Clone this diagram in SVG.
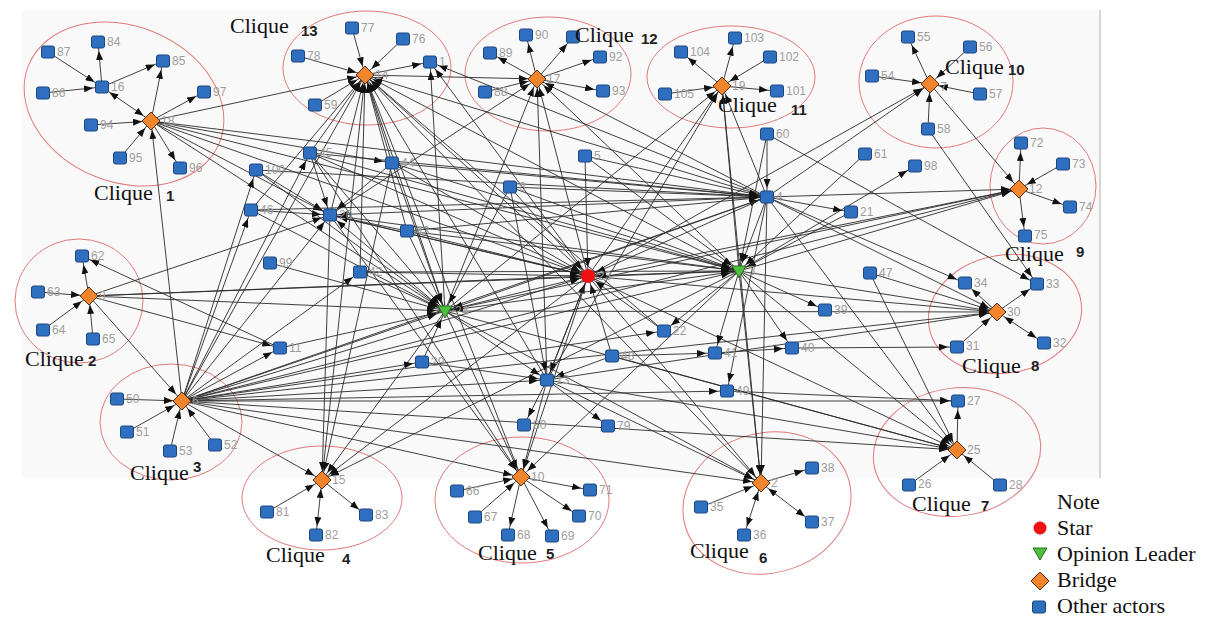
<svg xmlns="http://www.w3.org/2000/svg" xmlns:xlink="http://www.w3.org/1999/xlink" width="1211" height="619" viewBox="0 0 1211 619">
<style>
.e{fill:none;stroke:#2a2a2a;stroke-width:.9;marker-end:url(#ah)}
.b{marker-start:url(#ahs)}
.sq{fill:#2f6fbf;stroke:#1d4680;stroke-width:1}
.dia{fill:#f0852d;stroke:#5a3010;stroke-width:1}
.tri{fill:#4fbf3f;stroke:#2a6a20;stroke-width:1}
.star{fill:#ee1111}
.lb{font-family:"Liberation Sans",Arial,sans-serif;font-size:12px;fill:#9d9d9d}
.cq{fill:none;stroke:#e07a7a;stroke-width:1}
.ct{font-family:"Liberation Serif","Times New Roman",serif;font-size:22px;fill:#111}
.cn{font-family:"Liberation Sans",Arial,sans-serif;font-size:15px;font-weight:bold;fill:#222}
.lg{font-family:"Liberation Serif","Times New Roman",serif;font-size:22px;fill:#111}
</style>
<defs>
<marker id="ah" viewBox="0 0 9 7" refX="18" refY="3.5" markerWidth="9" markerHeight="7" markerUnits="userSpaceOnUse" orient="auto"><path d="M0,0L9,3.5L0,7z" fill="#111"/></marker>
<marker id="ahs" viewBox="0 0 9 7" refX="18" refY="3.5" markerWidth="9" markerHeight="7" markerUnits="userSpaceOnUse" orient="auto-start-reverse"><path d="M0,0L9,3.5L0,7z" fill="#111"/></marker>
<rect id="sq" x="-6.5" y="-6" width="13" height="12" rx="2"/>
<path id="dm" d="M0,-9L9,0L0,9L-9,0Z"/>
<path id="tr" d="M-7,-5L7,-5L0,7Z"/>
</defs>
<rect x="0" y="0" width="1211" height="619" fill="#ffffff"/>
<rect x="22" y="10" width="1078" height="468" fill="#f9f9f9"/>
<line x1="1100" y1="10" x2="1100" y2="478" stroke="#c8c8c8" stroke-width="1.5"/>

<g id="clique-outlines">
<ellipse class="cq" cx="124" cy="104" rx="103" ry="78" transform="rotate(22 124 104)"/>
<ellipse class="cq" cx="367" cy="68" rx="84" ry="57"/>
<ellipse class="cq" cx="548" cy="74" rx="83" ry="57"/>
<ellipse class="cq" cx="731" cy="77" rx="84" ry="51"/>
<ellipse class="cq" cx="936" cy="82" rx="77" ry="66"/>
<ellipse class="cq" cx="1043" cy="186" rx="53" ry="58"/>
<ellipse class="cq" cx="1005" cy="314" rx="77" ry="59" transform="rotate(-10 1005 314)"/>
<ellipse class="cq" cx="957" cy="452" rx="84" ry="64" transform="rotate(-8 957 452)"/>
<ellipse class="cq" cx="767" cy="503" rx="85" ry="70" transform="rotate(-15 767 503)"/>
<ellipse class="cq" cx="522" cy="500" rx="87" ry="63"/>
<ellipse class="cq" cx="322" cy="498" rx="80" ry="52"/>
<ellipse class="cq" cx="171" cy="422" rx="71" ry="58"/>
<ellipse class="cq" cx="79" cy="301" rx="64" ry="62"/>
</g>

<g id="connectors">
<path class="e" d="M48 52L102 87"/>
<path class="e" d="M43 93L102 87"/>
<path class="e" d="M102 87L98 42"/>
<path class="e" d="M102 87L163 61"/>
<path class="e b" d="M151 121L102 87"/>
<path class="e" d="M151 121L163 61"/>
<path class="e" d="M151 121L204 92"/>
<path class="e" d="M91 125L151 121"/>
<path class="e" d="M120 158L151 121"/>
<path class="e" d="M151 121L180 168"/>
<path class="e" d="M352 28L365 75"/>
<path class="e" d="M403 39L365 75"/>
<path class="e" d="M298 56L365 75"/>
<path class="e" d="M315 105L365 75"/>
<path class="e" d="M365 75L430 62"/>
<path class="e" d="M365 75L537 79"/>
<path class="e" d="M537 79L526 35"/>
<path class="e" d="M537 79L490 53"/>
<path class="e" d="M537 79L573 37"/>
<path class="e" d="M537 79L600 57"/>
<path class="e" d="M537 79L603 91"/>
<path class="e" d="M485 92L537 79"/>
<path class="e" d="M722 86L681 52"/>
<path class="e" d="M722 86L735 38"/>
<path class="e" d="M770 57L722 86"/>
<path class="e" d="M665 94L722 86"/>
<path class="e" d="M722 86L777 91"/>
<path class="e" d="M930 84L908 37"/>
<path class="e" d="M970 47L930 84"/>
<path class="e" d="M980 94L930 84"/>
<path class="e" d="M928 129L930 84"/>
<path class="e" d="M872 76L930 84"/>
<path class="e" d="M930 84L1019 189"/>
<path class="e" d="M1019 189L1021 143"/>
<path class="e" d="M1063 164L1019 189"/>
<path class="e" d="M1019 189L1070 207"/>
<path class="e" d="M1019 189L1025 236"/>
<path class="e" d="M997 312L965 283"/>
<path class="e" d="M997 312L1037 284"/>
<path class="e b" d="M997 312L1044 343"/>
<path class="e" d="M957 347L997 312"/>
<path class="e" d="M957 450L958 401"/>
<path class="e" d="M909 485L957 450"/>
<path class="e" d="M1000 485L957 450"/>
<path class="e" d="M761 483L812 468"/>
<path class="e" d="M701 507L761 483"/>
<path class="e b" d="M761 483L744 535"/>
<path class="e b" d="M761 483L812 522"/>
<path class="e" d="M521 477L590 490"/>
<path class="e" d="M457 491L521 477"/>
<path class="e" d="M475 517L521 477"/>
<path class="e" d="M521 477L508 535"/>
<path class="e" d="M521 477L552 536"/>
<path class="e" d="M521 477L579 516"/>
<path class="e" d="M322 480L366 515"/>
<path class="e b" d="M322 480L316 535"/>
<path class="e" d="M267 512L322 480"/>
<path class="e" d="M117 399L182 401"/>
<path class="e" d="M127 432L182 401"/>
<path class="e" d="M170 451L182 401"/>
<path class="e" d="M215 445L182 401"/>
<path class="e" d="M89 296L82 256"/>
<path class="e" d="M38 292L89 296"/>
<path class="e" d="M43 330L89 296"/>
<path class="e" d="M93 339L89 296"/>
<path class="e" d="M151 121L365 75"/>
<path class="e" d="M182 401L151 121"/>
<path class="e" d="M151 121L767 197"/>
<path class="e" d="M151 121L588 276"/>
<path class="e" d="M151 121L739 271"/>
<path class="e" d="M151 121L330 215"/>
<path class="e" d="M151 121L445 311"/>
<path class="e" d="M151 121L392 163"/>
<path class="e" d="M182 401L365 75"/>
<path class="e" d="M330 215L365 75"/>
<path class="e" d="M445 311L365 75"/>
<path class="e" d="M588 276L365 75"/>
<path class="e" d="M739 271L365 75"/>
<path class="e" d="M767 197L365 75"/>
<path class="e" d="M310 153L365 75"/>
<path class="e" d="M360 272L365 75"/>
<path class="e" d="M407 231L365 75"/>
<path class="e" d="M322 480L365 75"/>
<path class="e" d="M521 477L365 75"/>
<path class="e" d="M547 380L365 75"/>
<path class="e" d="M251 210L365 75"/>
<path class="e" d="M664 331L365 75"/>
<path class="e" d="M761 483L365 75"/>
<path class="e" d="M392 163L365 75"/>
<path class="e" d="M445 311L430 62"/>
<path class="e" d="M767 197L430 62"/>
<path class="e" d="M588 276L430 62"/>
<path class="e" d="M445 311L537 79"/>
<path class="e" d="M547 380L537 79"/>
<path class="e" d="M588 276L537 79"/>
<path class="e" d="M739 271L537 79"/>
<path class="e" d="M767 197L537 79"/>
<path class="e" d="M330 215L537 79"/>
<path class="e" d="M588 276L722 86"/>
<path class="e" d="M739 271L722 86"/>
<path class="e" d="M722 86L761 483"/>
<path class="e" d="M445 311L722 86"/>
<path class="e" d="M767 197L722 86"/>
<path class="e" d="M547 380L722 86"/>
<path class="e" d="M767 197L930 84"/>
<path class="e" d="M588 276L930 84"/>
<path class="e" d="M739 271L1019 189"/>
<path class="e" d="M588 276L1019 189"/>
<path class="e" d="M445 311L1019 189"/>
<path class="e" d="M767 197L1019 189"/>
<path class="e" d="M182 401L1019 189"/>
<path class="e" d="M739 271L997 312"/>
<path class="e" d="M767 197L997 312"/>
<path class="e" d="M588 276L997 312"/>
<path class="e" d="M445 311L997 312"/>
<path class="e" d="M182 401L997 312"/>
<path class="e" d="M547 380L997 312"/>
<path class="e" d="M870 273L997 312"/>
<path class="e" d="M739 271L957 450"/>
<path class="e" d="M767 197L957 450"/>
<path class="e" d="M588 276L957 450"/>
<path class="e" d="M547 380L957 450"/>
<path class="e" d="M182 401L957 450"/>
<path class="e" d="M870 273L957 450"/>
<path class="e" d="M445 311L957 450"/>
<path class="e" d="M612 356L957 450"/>
<path class="e" d="M739 271L761 483"/>
<path class="e" d="M767 197L761 483"/>
<path class="e" d="M588 276L761 483"/>
<path class="e" d="M445 311L761 483"/>
<path class="e" d="M182 401L761 483"/>
<path class="e" d="M547 380L761 483"/>
<path class="e" d="M445 311L521 477"/>
<path class="e" d="M588 276L521 477"/>
<path class="e" d="M182 401L521 477"/>
<path class="e" d="M547 380L521 477"/>
<path class="e" d="M739 271L521 477"/>
<path class="e" d="M310 153L521 477"/>
<path class="e" d="M330 215L521 477"/>
<path class="e" d="M445 311L322 480"/>
<path class="e" d="M588 276L322 480"/>
<path class="e" d="M330 215L322 480"/>
<path class="e" d="M182 401L322 480"/>
<path class="e" d="M739 271L322 480"/>
<path class="e" d="M392 163L322 480"/>
<path class="e" d="M89 296L182 401"/>
<path class="e" d="M182 401L310 153"/>
<path class="e" d="M182 401L251 210"/>
<path class="e" d="M182 401L256 170"/>
<path class="e" d="M182 401L330 215"/>
<path class="e" d="M182 401L280 348"/>
<path class="e" d="M182 401L445 311"/>
<path class="e" d="M182 401L588 276"/>
<path class="e" d="M182 401L739 271"/>
<path class="e" d="M182 401L767 197"/>
<path class="e" d="M182 401L547 380"/>
<path class="e" d="M182 401L422 362"/>
<path class="e" d="M182 401L727 391"/>
<path class="e" d="M182 401L958 401"/>
<path class="e" d="M182 401L664 331"/>
<path class="e" d="M182 401L360 272"/>
<path class="e" d="M89 296L588 276"/>
<path class="e" d="M89 296L739 271"/>
<path class="e" d="M89 296L445 311"/>
<path class="e" d="M89 296L280 348"/>
<path class="e" d="M89 296L330 215"/>
<path class="e" d="M280 348L82 256"/>
<path class="e" d="M310 153L330 215"/>
<path class="e" d="M392 163L330 215"/>
<path class="e" d="M256 170L330 215"/>
<path class="e" d="M251 210L330 215"/>
<path class="e" d="M407 231L330 215"/>
<path class="e" d="M767 197L330 215"/>
<path class="e" d="M588 276L330 215"/>
<path class="e" d="M739 271L330 215"/>
<path class="e" d="M445 311L330 215"/>
<path class="e" d="M310 153L588 276"/>
<path class="e" d="M392 163L588 276"/>
<path class="e" d="M407 231L588 276"/>
<path class="e" d="M360 272L588 276"/>
<path class="e" d="M330 215L588 276"/>
<path class="e" d="M585 156L588 276"/>
<path class="e" d="M510 187L588 276"/>
<path class="e" d="M767 197L588 276"/>
<path class="e" d="M739 271L588 276"/>
<path class="e" d="M445 311L588 276"/>
<path class="e" d="M547 380L588 276"/>
<path class="e" d="M664 331L588 276"/>
<path class="e" d="M612 356L588 276"/>
<path class="e" d="M360 272L445 311"/>
<path class="e" d="M407 231L445 311"/>
<path class="e" d="M392 163L445 311"/>
<path class="e" d="M310 153L445 311"/>
<path class="e" d="M270 263L445 311"/>
<path class="e" d="M251 210L445 311"/>
<path class="e" d="M280 348L445 311"/>
<path class="e" d="M422 362L445 311"/>
<path class="e" d="M739 271L445 311"/>
<path class="e" d="M767 197L445 311"/>
<path class="e" d="M510 187L445 311"/>
<path class="e" d="M256 170L445 311"/>
<path class="e" d="M767 197L739 271"/>
<path class="e" d="M585 156L739 271"/>
<path class="e" d="M510 187L739 271"/>
<path class="e" d="M851 212L739 271"/>
<path class="e" d="M767 134L739 271"/>
<path class="e" d="M865 154L739 271"/>
<path class="e" d="M392 163L739 271"/>
<path class="e" d="M310 153L739 271"/>
<path class="e" d="M360 272L739 271"/>
<path class="e" d="M407 231L739 271"/>
<path class="e" d="M739 271L825 310"/>
<path class="e" d="M739 271L792 348"/>
<path class="e" d="M739 271L715 353"/>
<path class="e" d="M739 271L664 331"/>
<path class="e" d="M739 271L915 166"/>
<path class="e" d="M767 134L767 197"/>
<path class="e" d="M510 187L767 197"/>
<path class="e" d="M585 156L767 197"/>
<path class="e" d="M392 163L767 197"/>
<path class="e" d="M310 153L767 197"/>
<path class="e" d="M407 231L767 197"/>
<path class="e" d="M251 210L767 197"/>
<path class="e" d="M767 197L851 212"/>
<path class="e" d="M767 197L965 283"/>
<path class="e" d="M767 197L727 391"/>
<path class="e" d="M256 170L767 197"/>
<path class="e" d="M422 362L547 380"/>
<path class="e" d="M445 311L547 380"/>
<path class="e" d="M588 276L547 380"/>
<path class="e" d="M612 356L547 380"/>
<path class="e" d="M547 380L524 425"/>
<path class="e" d="M547 380L608 426"/>
<path class="e" d="M510 187L547 380"/>
<path class="e" d="M767 134L1037 284"/>
<path class="e" d="M928 129L1037 284"/>
<path class="e" d="M792 348L957 347"/>
<path class="e" d="M715 353L792 348"/>
<path class="e" d="M612 356L715 353"/>
<path class="e" d="M727 391L958 401"/>
</g>

<g id="n1"><use href="#sq" class="sq" x="430" y="62"/><text class="lb" x="439" y="66">1</text></g>
<g id="n2"><use href="#dm" class="dia" x="761" y="483"/><text class="lb" x="771" y="487">2</text></g>
<g id="n3"><use href="#tr" class="tri" x="739" y="271"/><text class="lb" x="749" y="275">3</text></g>
<g id="n4"><use href="#sq" class="sq" x="767" y="197"/><text class="lb" x="776" y="201">4</text></g>
<g id="n5"><use href="#sq" class="sq" x="585" y="156"/><text class="lb" x="594" y="160">5</text></g>
<g id="n6"><use href="#dm" class="dia" x="182" y="401"/><text class="lb" x="192" y="405">6</text></g>
<g id="n7"><use href="#dm" class="dia" x="930" y="84"/><text class="lb" x="940" y="91">7</text></g>
<g id="n8"><use href="#sq" class="sq" x="510" y="187"/><text class="lb" x="519" y="191">8</text></g>
<g id="n9"><use href="#dm" class="dia" x="89" y="296"/><text class="lb" x="99" y="300">9</text></g>
<g id="n10"><use href="#dm" class="dia" x="521" y="477"/><text class="lb" x="531" y="481">10</text></g>
<g id="n11"><use href="#sq" class="sq" x="280" y="348"/><text class="lb" x="289" y="352">11</text></g>
<g id="n12"><use href="#dm" class="dia" x="1019" y="189"/><text class="lb" x="1029" y="193">12</text></g>
<g id="n13"><use href="#sq" class="sq" x="547" y="380"/><text class="lb" x="556" y="384">13</text></g>
<g id="n14"><use href="#dm" class="dia" x="365" y="75"/><text class="lb" x="375" y="79">14</text></g>
<g id="n15"><use href="#dm" class="dia" x="322" y="480"/><text class="lb" x="332" y="484">15</text></g>
<g id="n16"><use href="#sq" class="sq" x="102" y="87"/><text class="lb" x="111" y="91">16</text></g>
<g id="n17"><use href="#dm" class="dia" x="537" y="79"/><text class="lb" x="547" y="83">17</text></g>
<g id="n18"><use href="#dm" class="dia" x="151" y="121"/><text class="lb" x="161" y="125">18</text></g>
<g id="n19"><use href="#dm" class="dia" x="722" y="86"/><text class="lb" x="732" y="90">19</text></g>
<g id="n20"><use href="#sq" class="sq" x="330" y="215"/><text class="lb" x="339" y="219">20</text></g>
<g id="n21"><use href="#sq" class="sq" x="851" y="212"/><text class="lb" x="860" y="216">21</text></g>
<g id="n22"><use href="#sq" class="sq" x="664" y="331"/><text class="lb" x="673" y="335">22</text></g>
<g id="n23"><circle class="star" cx="588" cy="276" r="7"/><text class="lb" x="598" y="280">23</text></g>
<g id="n24"><use href="#tr" class="tri" x="445" y="311"/><text class="lb" x="455" y="315">24</text></g>
<g id="n25"><use href="#dm" class="dia" x="957" y="450"/><text class="lb" x="967" y="454">25</text></g>
<g id="n26"><use href="#sq" class="sq" x="909" y="485"/><text class="lb" x="918" y="488">26</text></g>
<g id="n27"><use href="#sq" class="sq" x="958" y="401"/><text class="lb" x="967" y="405">27</text></g>
<g id="n28"><use href="#sq" class="sq" x="1000" y="485"/><text class="lb" x="1009" y="489">28</text></g>
<g id="n29"><use href="#sq" class="sq" x="422" y="362"/><text class="lb" x="431" y="366">29</text></g>
<g id="n30"><use href="#dm" class="dia" x="997" y="312"/><text class="lb" x="1007" y="316">30</text></g>
<g id="n31"><use href="#sq" class="sq" x="957" y="347"/><text class="lb" x="966" y="350">31</text></g>
<g id="n32"><use href="#sq" class="sq" x="1044" y="343"/><text class="lb" x="1053" y="347">32</text></g>
<g id="n33"><use href="#sq" class="sq" x="1037" y="284"/><text class="lb" x="1046" y="288">33</text></g>
<g id="n34"><use href="#sq" class="sq" x="965" y="283"/><text class="lb" x="974" y="287">34</text></g>
<g id="n35"><use href="#sq" class="sq" x="701" y="507"/><text class="lb" x="710" y="511">35</text></g>
<g id="n36"><use href="#sq" class="sq" x="744" y="535"/><text class="lb" x="753" y="539">36</text></g>
<g id="n37"><use href="#sq" class="sq" x="812" y="522"/><text class="lb" x="821" y="526">37</text></g>
<g id="n38"><use href="#sq" class="sq" x="812" y="468"/><text class="lb" x="821" y="472">38</text></g>
<g id="n39"><use href="#sq" class="sq" x="825" y="310"/><text class="lb" x="834" y="314">39</text></g>
<g id="n40"><use href="#sq" class="sq" x="792" y="348"/><text class="lb" x="801" y="352">40</text></g>
<g id="n41"><use href="#sq" class="sq" x="715" y="353"/><text class="lb" x="724" y="357">41</text></g>
<g id="n42"><use href="#sq" class="sq" x="360" y="272"/><text class="lb" x="369" y="276">42</text></g>
<g id="n43"><use href="#sq" class="sq" x="407" y="231"/><text class="lb" x="416" y="235">43</text></g>
<g id="n44"><use href="#sq" class="sq" x="392" y="163"/><text class="lb" x="401" y="167">44</text></g>
<g id="n45"><use href="#sq" class="sq" x="310" y="153"/><text class="lb" x="319" y="157">45</text></g>
<g id="n46"><use href="#sq" class="sq" x="251" y="210"/><text class="lb" x="260" y="214">46</text></g>
<g id="n47"><use href="#sq" class="sq" x="870" y="273"/><text class="lb" x="879" y="277">47</text></g>
<g id="n48"><use href="#sq" class="sq" x="612" y="356"/><text class="lb" x="621" y="360">48</text></g>
<g id="n49"><use href="#sq" class="sq" x="727" y="391"/><text class="lb" x="736" y="395">49</text></g>
<g id="n50"><use href="#sq" class="sq" x="117" y="399"/><text class="lb" x="126" y="403">50</text></g>
<g id="n51"><use href="#sq" class="sq" x="127" y="432"/><text class="lb" x="136" y="436">51</text></g>
<g id="n52"><use href="#sq" class="sq" x="215" y="445"/><text class="lb" x="224" y="449">52</text></g>
<g id="n53"><use href="#sq" class="sq" x="170" y="451"/><text class="lb" x="179" y="455">53</text></g>
<g id="n54"><use href="#sq" class="sq" x="872" y="76"/><text class="lb" x="881" y="80">54</text></g>
<g id="n55"><use href="#sq" class="sq" x="908" y="37"/><text class="lb" x="917" y="41">55</text></g>
<g id="n56"><use href="#sq" class="sq" x="970" y="47"/><text class="lb" x="979" y="51">56</text></g>
<g id="n57"><use href="#sq" class="sq" x="980" y="94"/><text class="lb" x="989" y="98">57</text></g>
<g id="n58"><use href="#sq" class="sq" x="928" y="129"/><text class="lb" x="937" y="133">58</text></g>
<g id="n59"><use href="#sq" class="sq" x="315" y="105"/><text class="lb" x="324" y="109">59</text></g>
<g id="n60"><use href="#sq" class="sq" x="767" y="134"/><text class="lb" x="776" y="138">60</text></g>
<g id="n61"><use href="#sq" class="sq" x="865" y="154"/><text class="lb" x="874" y="158">61</text></g>
<g id="n62"><use href="#sq" class="sq" x="82" y="256"/><text class="lb" x="91" y="260">62</text></g>
<g id="n63"><use href="#sq" class="sq" x="38" y="292"/><text class="lb" x="47" y="296">63</text></g>
<g id="n64"><use href="#sq" class="sq" x="43" y="330"/><text class="lb" x="52" y="334">64</text></g>
<g id="n65"><use href="#sq" class="sq" x="93" y="339"/><text class="lb" x="102" y="343">65</text></g>
<g id="n66"><use href="#sq" class="sq" x="457" y="491"/><text class="lb" x="466" y="495">66</text></g>
<g id="n67"><use href="#sq" class="sq" x="475" y="517"/><text class="lb" x="484" y="521">67</text></g>
<g id="n68"><use href="#sq" class="sq" x="508" y="535"/><text class="lb" x="517" y="539">68</text></g>
<g id="n69"><use href="#sq" class="sq" x="552" y="536"/><text class="lb" x="561" y="540">69</text></g>
<g id="n70"><use href="#sq" class="sq" x="579" y="516"/><text class="lb" x="588" y="520">70</text></g>
<g id="n71"><use href="#sq" class="sq" x="590" y="490"/><text class="lb" x="599" y="494">71</text></g>
<g id="n72"><use href="#sq" class="sq" x="1021" y="143"/><text class="lb" x="1030" y="147">72</text></g>
<g id="n73"><use href="#sq" class="sq" x="1063" y="164"/><text class="lb" x="1072" y="168">73</text></g>
<g id="n74"><use href="#sq" class="sq" x="1070" y="207"/><text class="lb" x="1079" y="211">74</text></g>
<g id="n75"><use href="#sq" class="sq" x="1025" y="236"/><text class="lb" x="1034" y="239">75</text></g>
<g id="n76"><use href="#sq" class="sq" x="403" y="39"/><text class="lb" x="412" y="43">76</text></g>
<g id="n77"><use href="#sq" class="sq" x="352" y="28"/><text class="lb" x="361" y="32">77</text></g>
<g id="n78"><use href="#sq" class="sq" x="298" y="56"/><text class="lb" x="307" y="60">78</text></g>
<g id="n79"><use href="#sq" class="sq" x="608" y="426"/><text class="lb" x="617" y="430">79</text></g>
<g id="n80"><use href="#sq" class="sq" x="524" y="425"/><text class="lb" x="533" y="429">80</text></g>
<g id="n81"><use href="#sq" class="sq" x="267" y="512"/><text class="lb" x="276" y="516">81</text></g>
<g id="n82"><use href="#sq" class="sq" x="316" y="535"/><text class="lb" x="325" y="539">82</text></g>
<g id="n83"><use href="#sq" class="sq" x="366" y="515"/><text class="lb" x="375" y="519">83</text></g>
<g id="n84"><use href="#sq" class="sq" x="98" y="42"/><text class="lb" x="107" y="46">84</text></g>
<g id="n85"><use href="#sq" class="sq" x="163" y="61"/><text class="lb" x="172" y="65">85</text></g>
<g id="n86"><use href="#sq" class="sq" x="43" y="93"/><text class="lb" x="52" y="97">86</text></g>
<g id="n87"><use href="#sq" class="sq" x="48" y="52"/><text class="lb" x="57" y="56">87</text></g>
<g id="n88"><use href="#sq" class="sq" x="485" y="92"/><text class="lb" x="494" y="96">88</text></g>
<g id="n89"><use href="#sq" class="sq" x="490" y="53"/><text class="lb" x="499" y="57">89</text></g>
<g id="n90"><use href="#sq" class="sq" x="526" y="35"/><text class="lb" x="535" y="39">90</text></g>
<g id="n91"><use href="#sq" class="sq" x="573" y="37"/></g>
<g id="n92"><use href="#sq" class="sq" x="600" y="57"/><text class="lb" x="609" y="61">92</text></g>
<g id="n93"><use href="#sq" class="sq" x="603" y="91"/><text class="lb" x="612" y="95">93</text></g>
<g id="n94"><use href="#sq" class="sq" x="91" y="125"/><text class="lb" x="100" y="129">94</text></g>
<g id="n95"><use href="#sq" class="sq" x="120" y="158"/><text class="lb" x="129" y="162">95</text></g>
<g id="n96"><use href="#sq" class="sq" x="180" y="168"/><text class="lb" x="189" y="172">96</text></g>
<g id="n97"><use href="#sq" class="sq" x="204" y="92"/><text class="lb" x="213" y="96">97</text></g>
<g id="n98"><use href="#sq" class="sq" x="915" y="166"/><text class="lb" x="924" y="170">98</text></g>
<g id="n99"><use href="#sq" class="sq" x="270" y="263"/><text class="lb" x="279" y="267">99</text></g>
<g id="n100"><use href="#sq" class="sq" x="256" y="170"/><text class="lb" x="265" y="174">100</text></g>
<g id="n101"><use href="#sq" class="sq" x="777" y="91"/><text class="lb" x="786" y="95">101</text></g>
<g id="n102"><use href="#sq" class="sq" x="770" y="57"/><text class="lb" x="779" y="61">102</text></g>
<g id="n103"><use href="#sq" class="sq" x="735" y="38"/><text class="lb" x="744" y="42">103</text></g>
<g id="n104"><use href="#sq" class="sq" x="681" y="52"/><text class="lb" x="690" y="56">104</text></g>
<g id="n105"><use href="#sq" class="sq" x="665" y="94"/><text class="lb" x="674" y="98">105</text></g>

<g id="clique-labels">
<text class="ct" x="94" y="200">Clique</text><text class="cn" x="166" y="201">1</text>
<text class="ct" x="25" y="366">Clique</text><text class="cn" x="88" y="366">2</text>
<text class="ct" x="130" y="480">Clique</text><text class="cn" x="193" y="472">3</text>
<text class="ct" x="266" y="562">Clique</text><text class="cn" x="342" y="564">4</text>
<text class="ct" x="478" y="560">Clique</text><text class="cn" x="546" y="559">5</text>
<text class="ct" x="690" y="558">Clique</text><text class="cn" x="759" y="563">6</text>
<text class="ct" x="912" y="511">Clique</text><text class="cn" x="981" y="511">7</text>
<text class="ct" x="962" y="373">Clique</text><text class="cn" x="1031" y="371">8</text>
<text class="ct" x="1005" y="261">Clique</text><text class="cn" x="1076" y="257">9</text>
<text class="ct" x="945" y="74">Clique</text><text class="cn" x="1008" y="75">10</text>
<text class="ct" x="718" y="112">Clique</text><text class="cn" x="791" y="115">11</text>
<text class="ct" x="575" y="42">Clique</text><text class="cn" x="641" y="44">12</text>
<text class="ct" x="230" y="33">Clique</text><text class="cn" x="301" y="36">13</text>
</g>

<g id="legend">
<text class="lg" x="1057" y="509">Note</text>
<circle class="star" cx="1040" cy="528" r="6.5"/>
<text class="lg" x="1057" y="535">Star</text>
<use href="#tr" class="tri" x="1040" y="553"/>
<text class="lg" x="1057" y="561">Opinion Leader</text>
<use href="#dm" class="dia" x="1040" y="581"/>
<text class="lg" x="1057" y="587">Bridge</text>
<use href="#sq" class="sq" x="1039" y="607"/>
<text class="lg" x="1057" y="613">Other actors</text>
</g>
</svg>
